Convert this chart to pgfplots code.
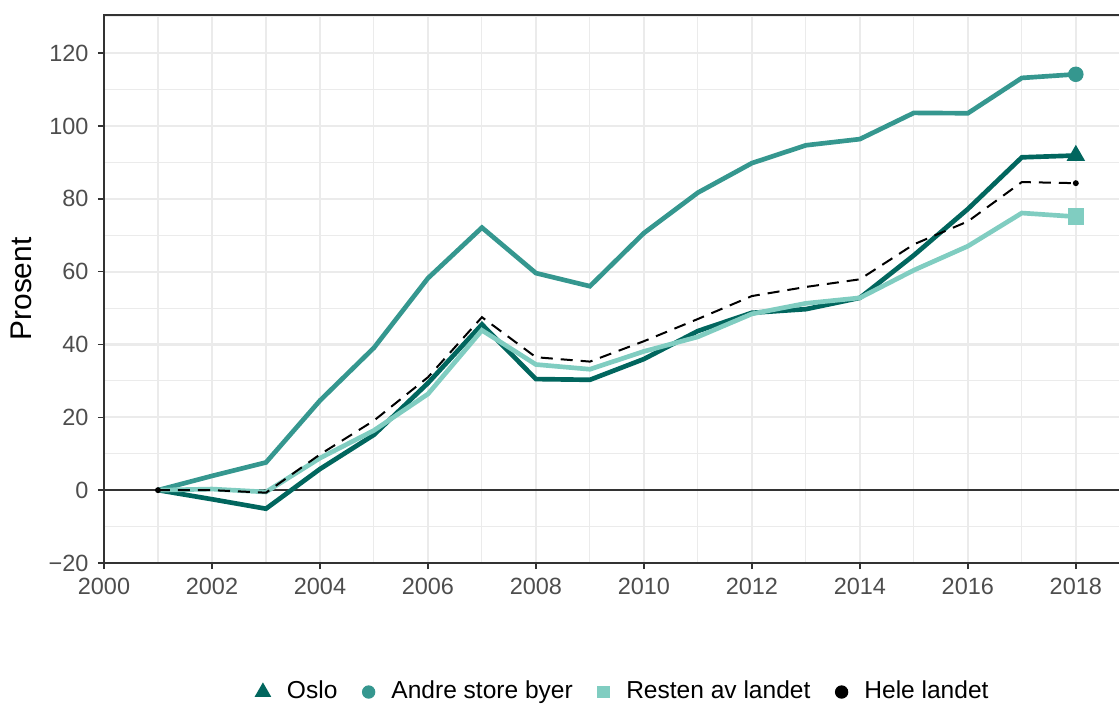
\documentclass[border=0pt]{standalone}
\usepackage{fontspec}
\setmainfont{Liberation Sans}
\usepackage{pgfplots}
\pgfplotsset{compat=1.18}

\definecolor{oslo}{HTML}{01665E}
\definecolor{andre}{HTML}{35978F}
\definecolor{resten}{HTML}{80CDC1}
\definecolor{gridgray}{HTML}{EBEBEB}
\definecolor{axisgray}{HTML}{333333}
\definecolor{ticktext}{HTML}{4D4D4D}

\begin{document}
\begin{tikzpicture}
% picture frame: 1119x707 px at 0.375pt per px
\useasboundingbox (-39pt,-54pt) rectangle (380.6pt,211.1pt);
\begin{axis}[
  at={(0,0)}, anchor=south west,
  scale only axis,
  width=380.6pt, height=205.5pt,
  xmin=2000, xmax=2018.8,
  ymin=-20, ymax=130.5,
  xtick={2000,2002,...,2018},
  xticklabels={2000,2002,2004,2006,2008,2010,2012,2014,2016,2018},
  minor xtick={2001,2003,...,2017},
  ytick={-20,0,...,120},
  yticklabels={−20,0,20,40,60,80,100,120},
  minor ytick={-10,10,...,130},
  grid=both,
  major grid style={gridgray, line width=0.8pt},
  minor grid style={gridgray, line width=0.4pt},
  axis line style={draw=none},
  tick align=outside,
  tick pos=left,
  major tick length=2.3pt,
  minor tick length=0pt,
  tick style={axisgray, line width=0.6pt},
  tick label style={font=\fontsize{8.8}{10}\selectfont, text=ticktext},
  ylabel={Prosent},
  ylabel style={font=\fontsize{11.2}{13}\selectfont, at={(axis description cs:-0.081,0.5)}, anchor=center},
  legend columns=4,
  legend style={at={(axis description cs:0.513,-0.2355)}, anchor=center, draw=none,
    font=\fontsize{9.2}{11}\selectfont, column sep=4.25pt,
    /tikz/every even column/.append style={column sep=7.4pt}},
  legend cell align=left,
  clip=false,
]
% zero line
\addplot[axisgray, line width=0.55pt, forget plot] coordinates {(2000,0) (2018.8,0)};

\addplot[andre, line width=1.75pt, forget plot] coordinates {
(2001,0) (2002,3.9) (2003,7.6) (2004,24.6) (2005,39.1) (2006,58.2) (2007,72.1)
(2008,59.6) (2009,56.0) (2010,70.6) (2011,81.7) (2012,89.8) (2013,94.7)
(2014,96.4) (2015,103.6) (2016,103.5) (2017,113.2) (2018,114.2)};
\addplot[oslo, line width=1.75pt, forget plot] coordinates {
(2001,0) (2002,-2.5) (2003,-5.1) (2004,5.8) (2005,15.2) (2006,29.4) (2007,45.5)
(2008,30.5) (2009,30.3) (2010,36.0) (2011,43.7) (2012,48.7) (2013,49.7)
(2014,52.8) (2015,64.5) (2016,77.2) (2017,91.4) (2018,91.9)};
\addplot[resten, line width=1.75pt, forget plot] coordinates {
(2001,0) (2002,0.3) (2003,-0.5) (2004,8.8) (2005,16.4) (2006,26.4) (2007,43.9)
(2008,34.5) (2009,33.2) (2010,38.1) (2011,42.1) (2012,48.4) (2013,51.3)
(2014,52.8) (2015,60.4) (2016,67.0) (2017,76.1) (2018,75.1)};
\addplot[black, line width=0.75pt, dash pattern=on 4.5pt off 3pt, forget plot] coordinates {
(2001,0) (2002,0) (2003,-0.7) (2004,9.8) (2005,19.1) (2006,31.0) (2007,47.5)
(2008,36.5) (2009,35.3) (2010,40.9) (2011,47.0) (2012,53.3) (2013,55.8)
(2014,57.9) (2015,67.5) (2016,73.8) (2017,84.6) (2018,84.3)};

% end markers
\addplot[only marks, mark=*, andre, mark size=2.7pt, forget plot] coordinates {(2018,114.2)};
\addplot[only marks, mark=triangle*, oslo, mark size=3.6pt, forget plot] coordinates {(2018,91.9)};
\addplot[only marks, mark=square*, resten, mark size=2.9pt, forget plot] coordinates {(2018,75.1)};
\addplot[only marks, mark=*, black, mark size=0.9pt, forget plot] coordinates {(2001,0) (2018,84.3)};

% legend
\addlegendimage{only marks, mark=triangle*, oslo, mark size=3.2pt}
\addlegendentry{Oslo}
\addlegendimage{only marks, mark=*, andre, mark size=2.3pt}
\addlegendentry{Andre store byer}
\addlegendimage{only marks, mark=square*, resten, mark size=2.2pt}
\addlegendentry{Resten av landet}
\addlegendimage{only marks, mark=*, black, mark size=2.3pt}
\addlegendentry{Hele landet}
\end{axis}
% panel border: left, bottom, top
\draw[axisgray, line width=0.6pt] (380.6pt,205.5pt) -- (0,205.5pt) -- (0,0) -- (380.6pt,0);
\end{tikzpicture}
\end{document}
